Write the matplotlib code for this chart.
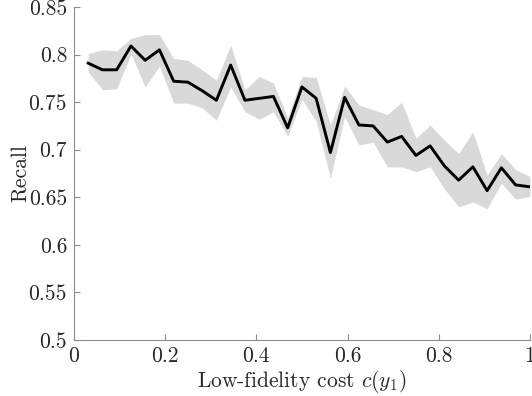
import matplotlib
matplotlib.use('Agg')
import matplotlib.pyplot as plt
import numpy as np

# recall vs low-fidelity cost, mean with spread band
cost = [k / 32 for k in range(1, 33)]
recall = [0.791, 0.784, 0.784, 0.809, 0.794, 0.805, 0.772, 0.771,
          0.762, 0.752, 0.789, 0.752, 0.754, 0.756, 0.723, 0.766,
          0.754, 0.697, 0.755, 0.726, 0.725, 0.708, 0.714, 0.694,
          0.704, 0.683, 0.668, 0.682, 0.657, 0.681, 0.663, 0.661]
upper = [0.801, 0.805, 0.804, 0.817, 0.821, 0.821, 0.796, 0.794,
         0.784, 0.773, 0.810, 0.763, 0.777, 0.770, 0.734, 0.777,
         0.776, 0.726, 0.767, 0.747, 0.742, 0.737, 0.750, 0.712,
         0.726, 0.710, 0.696, 0.719, 0.673, 0.696, 0.679, 0.672]
lower = [0.782, 0.763, 0.764, 0.801, 0.766, 0.788, 0.749, 0.749,
         0.744, 0.731, 0.766, 0.740, 0.732, 0.740, 0.714, 0.753,
         0.730, 0.670, 0.735, 0.705, 0.708, 0.682, 0.682, 0.677,
         0.682, 0.659, 0.640, 0.645, 0.638, 0.665, 0.648, 0.651]

xticks = [0, 0.2, 0.4, 0.6, 0.8, 1]
xlabels = ['0', '0.2', '0.4', '0.6', '0.8', '1']
yticks = [0.5, 0.55, 0.6, 0.65, 0.7, 0.75, 0.8, 0.85]
ylabels = ['0.5', '0.55', '0.6', '0.65', '0.7', '0.75', '0.8', '0.85']

plt.rcParams['font.family'] = 'serif'
plt.rcParams['font.serif'] = ['cmr10', 'DejaVu Serif']
plt.rcParams['mathtext.fontset'] = 'cm'
plt.rcParams['axes.unicode_minus'] = False

fig = plt.figure(figsize=(5.32, 3.96), dpi=100)
ax = fig.add_axes([0.139, 0.1414, 0.857, 0.8409])

ax.fill_between(cost, lower, upper, color='#d9d9d9', linewidth=0)
ax.plot(cost, recall, color='black', linewidth=2.1)

ax.set_xlim(0, 1)
ax.set_ylim(0.5, 0.85)
ax.set_xticks(xticks)
ax.set_xticklabels(xlabels)
ax.set_yticks(yticks)
ax.set_yticklabels(ylabels)

for s in ['top', 'right']:
    ax.spines[s].set_visible(False)
for s in ['left', 'bottom']:
    ax.spines[s].set_color('#8c8c8c')
    ax.spines[s].set_linewidth(0.8)
ax.tick_params(direction='in', length=4, width=0.8, color='#8c8c8c',
               labelsize=15.5, labelcolor='#262626', pad=5)

ax.set_xlabel(r'Low-fidelity cost $c(y_1)$', fontsize=15.5, color='#262626', labelpad=1)
ax.set_ylabel('Recall', fontsize=15.5, color='#262626', labelpad=-1)

plt.savefig('out.png', dpi=100)
